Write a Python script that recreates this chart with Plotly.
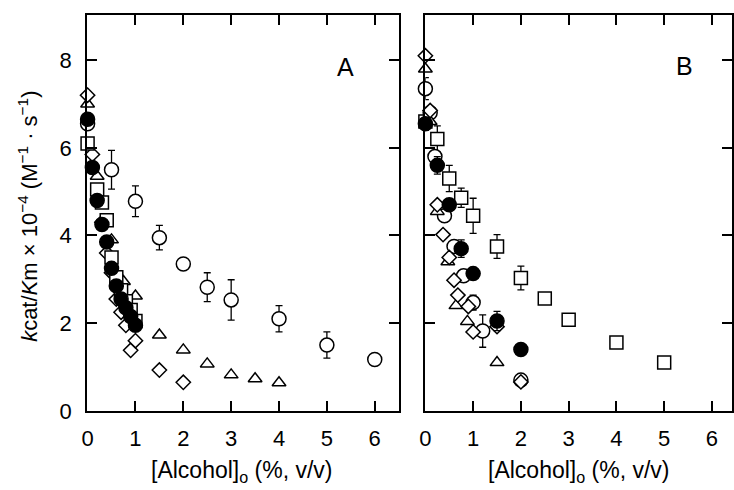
import plotly.graph_objects as go

# ---------------- Panel A data ----------------
a_open_x = [0, 0.5, 1.0, 1.5, 2.0, 2.5, 3.0, 4.0, 5.0, 6.0]
a_open_y = [6.55, 5.5, 4.78, 3.95, 3.35, 2.82, 2.53, 2.1, 1.5, 1.17]
a_open_e = [0.12, 0.44, 0.35, 0.28, 0.0, 0.33, 0.46, 0.3, 0.3, 0.0]

a_sq_x = [0, 0.2, 0.3, 0.4, 0.5, 0.6, 0.7, 0.8, 0.9, 1.0]
a_sq_y = [6.1, 5.05, 4.75, 4.35, 3.5, 3.05, 2.75, 2.5, 2.3, 2.05]

a_tri_x = [0, 0.2, 0.5, 0.75, 1.0, 1.5, 2.0, 2.5, 3.0, 3.5, 4.0]
a_tri_y = [7.0, 5.35, 3.9, 2.95, 2.62, 1.73, 1.39, 1.07, 0.82, 0.73, 0.64]

a_dia_x = [0, 0.1, 0.3, 0.4, 0.5, 0.6, 0.7, 0.8, 0.9, 1.0, 1.5, 2.0]
a_dia_y = [7.2, 5.85, 4.3, 3.6, 3.15, 2.55, 2.25, 1.95, 1.38, 1.6, 0.93, 0.65]

a_fill_x = [0, 0.1, 0.2, 0.3, 0.4, 0.5, 0.6, 0.7, 0.8, 0.9, 1.0]
a_fill_y = [6.65, 5.55, 4.8, 4.25, 3.85, 3.25, 2.85, 2.55, 2.35, 2.15, 1.95]

# ---------------- Panel B data ----------------
b_sq_x = [0, 0.25, 0.5, 0.75, 1.0, 1.5, 2.0, 2.5, 3.0, 4.0, 5.0]
b_sq_y = [6.6, 6.2, 5.3, 4.86, 4.45, 3.75, 3.03, 2.56, 2.08, 1.56, 1.1]
b_sq_e = [0.2, 0.3, 0.3, 0.22, 0.4, 0.27, 0.27, 0.0, 0.0, 0.0, 0.0]

b_open_x = [0, 0.1, 0.2, 0.4, 0.6, 0.8, 1.0, 1.2, 2.0]
b_open_y = [7.35, 6.8, 5.8, 4.45, 3.75, 3.08, 2.47, 1.82, 0.7]
b_open_e = [0.25, 0.0, 0.0, 0.0, 0.0, 0.0, 0.17, 0.37, 0.0]

b_tri_x = [0, 0.1, 0.25, 0.47, 0.64, 0.88, 1.5]
b_tri_y = [7.8, 6.6, 4.55, 3.4, 2.4, 2.04, 1.1]

b_dia_x = [0, 0.1, 0.25, 0.37, 0.5, 0.6, 0.68, 0.9, 1.0, 1.5, 2.0]
b_dia_y = [8.1, 6.85, 4.7, 4.02, 3.5, 2.98, 2.64, 2.38, 1.8, 1.92, 0.66]

b_fill_x = [0, 0.25, 0.5, 0.75, 1.0, 1.5, 2.0]
b_fill_y = [6.55, 5.6, 4.7, 3.7, 3.13, 2.05, 1.4]
b_fill_e = [0.0, 0.2, 0.0, 0.2, 0.0, 0.22, 0.0]

x_ticks = [0, 1, 2, 3, 4, 5, 6]
y_ticks = [0, 2, 4, 6, 8]

W, H = 734, 490
LW = 1.5

def mk(x, y, symbol, size, fill, xa, ya, err=None):
    tr = dict(
        x=x, y=y, mode="markers", xaxis=xa, yaxis=ya, showlegend=False,
        marker=dict(symbol=symbol, size=size, color=fill,
                    line=dict(color="black", width=LW)),
        cliponaxis=False,
    )
    if err is not None:
        tr["error_y"] = dict(type="data", array=err, visible=True,
                             color="black", thickness=1.3, width=3.5)
    return go.Scatter(**tr)

fig = go.Figure()
# Panel A
fig.add_trace(mk(a_open_x, a_open_y, "circle", 14, "white", "x", "y", a_open_e))
fig.add_trace(mk(a_tri_x, a_tri_y, "triangle-up", 12, "white", "x", "y"))
fig.add_trace(mk(a_dia_x, a_dia_y, "diamond", 11, "white", "x", "y"))
fig.add_trace(mk(a_sq_x, a_sq_y, "square", 13, "white", "x", "y"))
fig.add_trace(mk(a_fill_x, a_fill_y, "circle", 14, "black", "x", "y"))
# Panel B
fig.add_trace(mk(b_sq_x, b_sq_y, "square", 13, "white", "x2", "y2", b_sq_e))
fig.add_trace(mk(b_open_x, b_open_y, "circle", 14, "white", "x2", "y2", b_open_e))
fig.add_trace(mk(b_tri_x, b_tri_y, "triangle-up", 12, "white", "x2", "y2"))
fig.add_trace(mk(b_dia_x, b_dia_y, "diamond", 11, "white", "x2", "y2"))
fig.add_trace(mk(b_fill_x, b_fill_y, "circle", 14, "black", "x2", "y2", b_fill_e))

FONT = "Liberation Sans, Arial, Helvetica, sans-serif"
axis_common = dict(
    showline=True, linecolor="black", linewidth=2, mirror="ticks",
    ticks="inside", ticklen=10, tickwidth=1.5, tickcolor="black",
    showgrid=False, zeroline=False,
    tickfont=dict(family=FONT, size=22, color="black"),
)

y_dom = [1 - 422 / H, 1 - 15 / H]
fig.update_layout(
    width=W, height=H,
    margin=dict(l=0, r=0, t=0, b=0),
    paper_bgcolor="white", plot_bgcolor="white",
    xaxis=dict(domain=[82 / W, 397 / W], range=[-0.01, 6.5],
               tickvals=x_ticks, anchor="y", ticklabelstandoff=7, **axis_common),
    yaxis=dict(domain=y_dom, range=[0, 9.04], tickvals=y_ticks,
               anchor="x", ticklabelstandoff=9, **axis_common),
    xaxis2=dict(domain=[424 / W, 1.0], range=[0, 6.42],
                tickvals=x_ticks, anchor="y2", ticklabelstandoff=7, **axis_common),
    yaxis2=dict(domain=y_dom, range=[0, 9.04], tickvals=y_ticks,
                anchor="x2", showticklabels=False, **axis_common),
)

ann_font = dict(family=FONT, size=23, color="black")
for cx in (239, 579):
    fig.add_annotation(x=cx / W, y=1 - 468 / H, xref="paper", yref="paper",
                       text="[Alcohol]<sub>o</sub> (%, v/v)", showarrow=False,
                       font=ann_font, xanchor="center", yanchor="top", borderpad=0)
fig.add_annotation(x=22 / W, y=1 - 222 / H, xref="paper", yref="paper",
                   text="<i>k</i>cat/<i>K</i>m × 10<sup>−4</sup> (M<sup>−1</sup> · s<sup>−1</sup>)",
                   showarrow=False, textangle=-90,
                   font=dict(family=FONT, size=22, color="black"),
                   xanchor="center", yanchor="middle")
fig.add_annotation(x=343 / W, y=1 - 69 / H, xref="paper", yref="paper",
                   text="A", showarrow=False, font=dict(family=FONT, size=25, color="black"),
                   xanchor="center", yanchor="middle")
fig.add_annotation(x=686 / W, y=1 - 68 / H, xref="paper", yref="paper",
                   text="B", showarrow=False, font=dict(family=FONT, size=25, color="black"),
                   xanchor="center", yanchor="middle")

fig.write_html("out.html")
